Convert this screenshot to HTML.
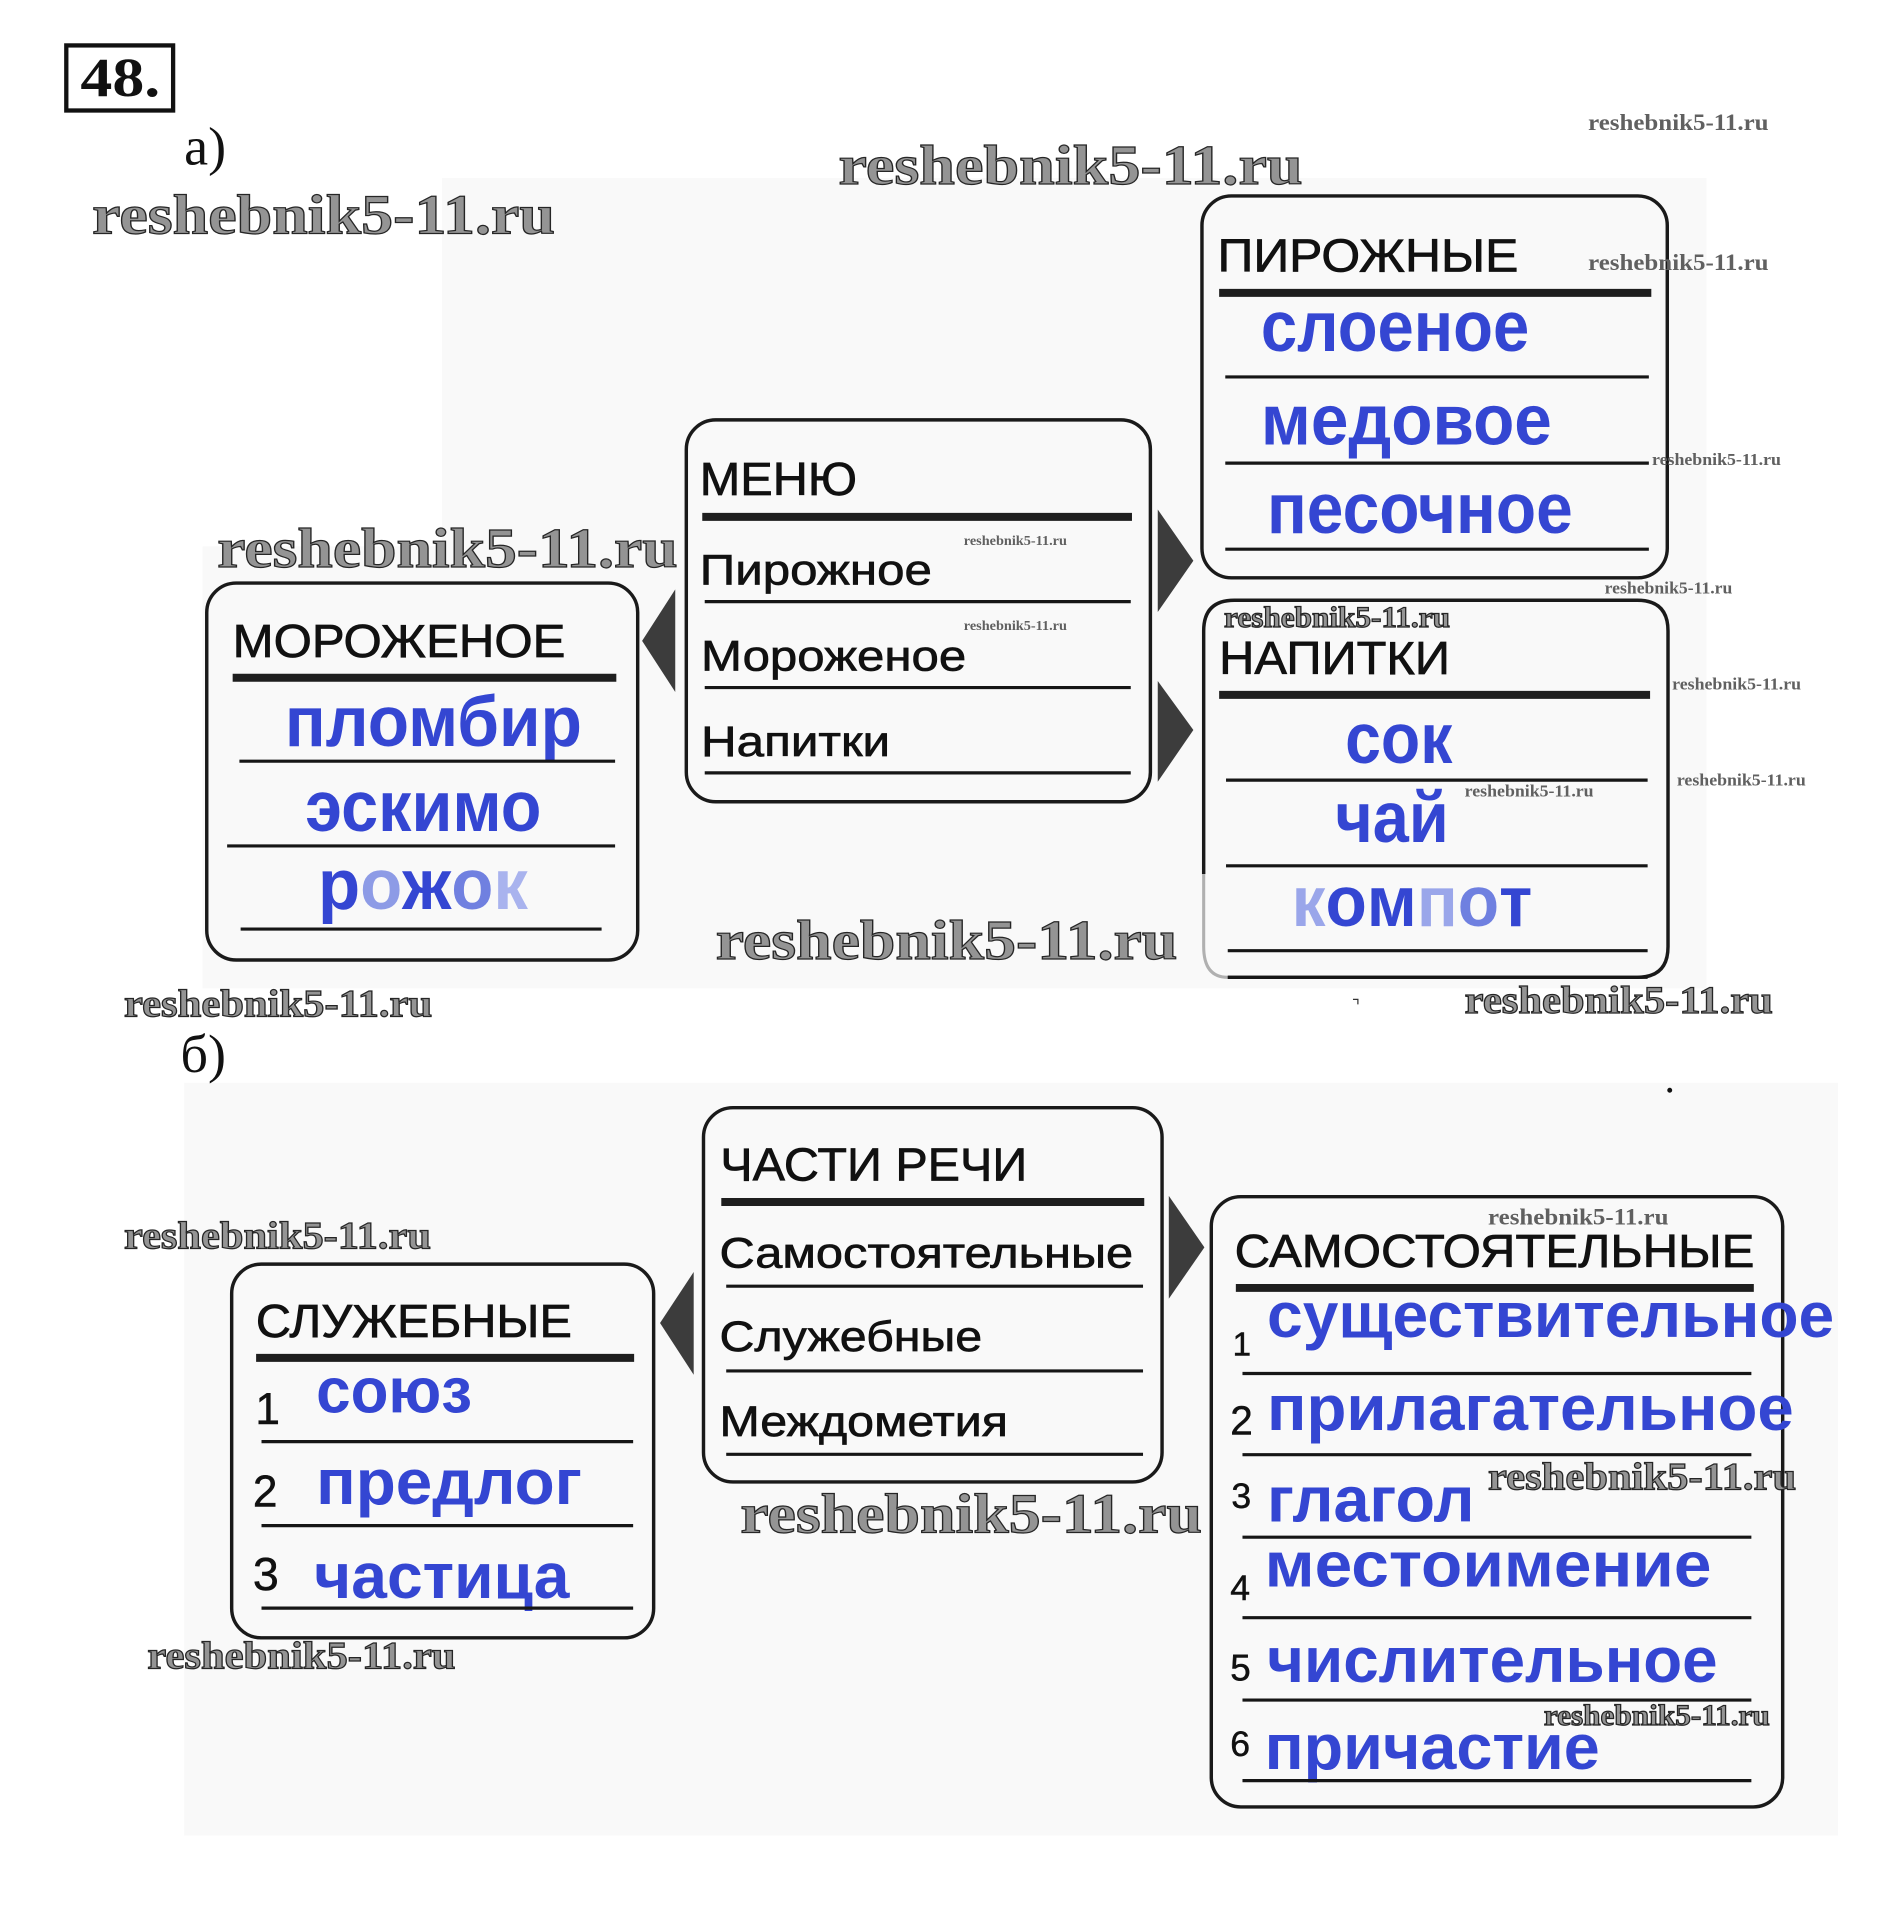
<!DOCTYPE html>
<html>
<head>
<meta charset="utf-8">
<style>
html,body{margin:0;padding:0;background:#fff;}
svg{display:block;}
.wm{font-family:"Liberation Serif",serif;font-weight:bold;fill:#949494;stroke:#262626;stroke-width:1;}
.ws{font-family:"Liberation Serif",serif;font-weight:bold;fill:#606060;}
.h{font-family:"Liberation Sans","DejaVu Sans",sans-serif;fill:#111;stroke:#111;stroke-width:0.6;font-size:38px;}
.t{font-family:"Liberation Sans","DejaVu Sans",sans-serif;fill:#111;stroke:#111;stroke-width:0.55;font-size:35px;}
.n{font-family:"Liberation Sans","DejaVu Sans",sans-serif;fill:#111;stroke:#111;stroke-width:0.4;}
.b{font-family:"Liberation Sans","DejaVu Sans",sans-serif;font-weight:bold;fill:#3446d2;font-size:58px;}
.b2{font-family:"Liberation Sans","DejaVu Sans",sans-serif;font-weight:bold;fill:#3446d2;font-size:52px;}
.box{fill:none;stroke:#1a1a1a;stroke-width:2.8;}
.ln{stroke:#161616;stroke-width:2.6;}
.th{stroke:#1e1e1e;stroke-width:6.5;}
.ar{fill:#3c3c3c;}
</style>
</head>
<body>
<svg width="1903" height="1926" viewBox="0 0 1550 1568.7" preserveAspectRatio="none" xmlns="http://www.w3.org/2000/svg">
<rect x="0" y="0" width="1550" height="1568.7" fill="#ffffff"/>
<!-- faint backgrounds -->
<rect x="360" y="145" width="1030" height="660" fill="#f9f9f9"/>
<rect x="165" y="445" width="195" height="360" fill="#f9f9f9"/>
<rect x="150" y="882" width="1347" height="613" fill="#f9f9f9"/>

<!-- 48. -->
<rect x="54" y="37" width="87" height="53" fill="none" stroke="#111" stroke-width="3.5"/>
<text x="65.5" y="78" font-family="Liberation Serif,serif" font-weight="bold" font-size="45" textLength="65" lengthAdjust="spacingAndGlyphs" fill="#111">48.</text>
<text x="150" y="134" font-family="Liberation Serif,serif" font-size="44" fill="#111">а)</text>
<text x="147" y="873" font-family="Liberation Serif,serif" font-size="44" fill="#111">б)</text>

<!-- ===== Part a ===== -->
<rect class="box" x="559" y="342" width="378" height="311" rx="24"/>
<text class="h" x="570" y="403" textLength="128" lengthAdjust="spacingAndGlyphs">МЕНЮ</text>
<line class="th" x1="572" y1="421" x2="922" y2="421"/>
<text class="t" x="570" y="476" textLength="189" lengthAdjust="spacingAndGlyphs">Пирожное</text>
<line class="ln" x1="574" y1="490" x2="921" y2="490"/>
<text class="t" x="571" y="546" textLength="216" lengthAdjust="spacingAndGlyphs">Мороженое</text>
<line class="ln" x1="574" y1="560" x2="921" y2="560"/>
<text class="t" x="571" y="615.6" textLength="154" lengthAdjust="spacingAndGlyphs">Напитки</text>
<line class="ln" x1="574" y1="629.5" x2="921" y2="629.5"/>

<polygon class="ar" points="550,480 523,522 550,563.6"/>
<polygon class="ar" points="943,415 972,456.7 943,498.5"/>
<polygon class="ar" points="943,554.7 972,594.6 943,636.7"/>

<rect class="box" x="168.4" y="474.9" width="351" height="307" rx="24"/>
<text class="h" x="189.5" y="535" textLength="271" lengthAdjust="spacingAndGlyphs">МОРОЖЕНОЕ</text>
<line class="th" x1="189.5" y1="552" x2="502" y2="552"/>
<text class="b" x="232" y="607.7" textLength="242" lengthAdjust="spacingAndGlyphs">пломбир</text>
<line class="ln" x1="195" y1="620" x2="501" y2="620"/>
<text class="b" x="248.6" y="676.7" textLength="192.4" lengthAdjust="spacingAndGlyphs">эскимо</text>
<line class="ln" x1="185" y1="689" x2="501" y2="689" stroke-width="3.5"/>
<text class="b" x="259" y="740.5" textLength="171" lengthAdjust="spacingAndGlyphs"><tspan>р</tspan><tspan fill="#8d9be6">о</tspan><tspan>ж</tspan><tspan fill="#7080e0">о</tspan><tspan fill="#a9b3ee">к</tspan></text>
<line class="ln" x1="196" y1="756.7" x2="490" y2="756.7" stroke-width="3.5"/>

<rect class="box" x="979" y="159.6" width="379" height="311" rx="24"/>
<text class="h" x="991.7" y="221.3" textLength="245" lengthAdjust="spacingAndGlyphs">ПИРОЖНЫЕ</text>
<line class="th" x1="993" y1="238.5" x2="1345" y2="238.5" stroke-width="7"/>
<text class="b" x="1027" y="286" textLength="218.6" lengthAdjust="spacingAndGlyphs">слоеное</text>
<line class="ln" x1="998" y1="307" x2="1343" y2="307"/>
<text class="b" x="1027" y="362" textLength="237" lengthAdjust="spacingAndGlyphs">медовое</text>
<line class="ln" x1="998" y1="377.2" x2="1343" y2="377.2"/>
<text class="b" x="1032" y="434" textLength="249" lengthAdjust="spacingAndGlyphs">песочное</text>
<line class="ln" x1="998" y1="447.3" x2="1343" y2="447.3"/>

<path class="box" d="M980.4 712 L980.4 513.9 Q980.4 488.9 1005.4 488.9 L1333.6 488.9 Q1358.6 488.9 1358.6 513.9 L1358.6 771 Q1358.6 796 1333.6 796 L1000 796"/>
<path d="M980.4 712 L980.4 771 Q980.4 796 1000 796" fill="none" stroke="#b0b0b0" stroke-width="2.5"/>
<text class="h" x="993" y="548.8" textLength="188" lengthAdjust="spacingAndGlyphs">НАПИТКИ</text>
<line class="th" x1="993" y1="566" x2="1344" y2="566"/>
<text class="b" x="1095.6" y="621.6" textLength="87.4" lengthAdjust="spacingAndGlyphs">сок</text>
<line class="ln" x1="998.6" y1="635.4" x2="1342" y2="635.4"/>
<text class="b" x="1087.5" y="686" textLength="92.5" lengthAdjust="spacingAndGlyphs">чай</text>
<line class="ln" x1="998.6" y1="705.2" x2="1342" y2="705.2"/>
<text class="b" x="1052" y="754.4" textLength="196" lengthAdjust="spacingAndGlyphs"><tspan fill="#9aa6ea">к</tspan><tspan>о</tspan><tspan>м</tspan><tspan fill="#9aa6ea">п</tspan><tspan fill="#6f80e0">о</tspan><tspan>т</tspan></text>
<line class="ln" x1="1000" y1="774.3" x2="1342" y2="774.3" stroke-width="4"/>
<line class="ln" x1="1000" y1="796" x2="1342" y2="796" stroke-width="5"/>

<!-- ===== Part b ===== -->
<rect class="box" x="573" y="902.2" width="373.5" height="304.8" rx="24"/>
<text class="h" x="586.7" y="961.5" textLength="250" lengthAdjust="spacingAndGlyphs">ЧАСТИ РЕЧИ</text>
<line class="th" x1="587.5" y1="979" x2="932" y2="979"/>
<text class="t" x="586" y="1032.5" textLength="337" lengthAdjust="spacingAndGlyphs">Самостоятельные</text>
<line class="ln" x1="591.5" y1="1047.6" x2="931" y2="1047.6"/>
<text class="t" x="586" y="1100.5" textLength="214" lengthAdjust="spacingAndGlyphs">Служебные</text>
<line class="ln" x1="591.5" y1="1116.6" x2="931" y2="1116.6"/>
<text class="t" x="586" y="1169.5" textLength="235" lengthAdjust="spacingAndGlyphs">Междометия</text>
<line class="ln" x1="591.5" y1="1184.5" x2="931" y2="1184.5"/>

<polygon class="ar" points="565,1036 537.6,1077.6 565,1119.7"/>
<polygon class="ar" points="952,974 981,1016 952,1057.8"/>

<rect class="box" x="188.7" y="1029.6" width="343.7" height="304.4" rx="24"/>
<text class="h" x="208.4" y="1088.8" textLength="257.4" lengthAdjust="spacingAndGlyphs">СЛУЖЕБНЫЕ</text>
<line class="th" x1="208.6" y1="1106" x2="516.5" y2="1106"/>
<text class="n" x="208" y="1159.7" font-size="36">1</text>
<text class="b2" x="257.5" y="1150.6" textLength="127" lengthAdjust="spacingAndGlyphs">союз</text>
<line class="ln" x1="213" y1="1174.2" x2="515.7" y2="1174.2"/>
<text class="n" x="206" y="1227" font-size="36">2</text>
<text class="b2" x="257.5" y="1225" textLength="216.5" lengthAdjust="spacingAndGlyphs">предлог</text>
<line class="ln" x1="213" y1="1242.6" x2="515.7" y2="1242.6"/>
<text class="n" x="206" y="1295" font-size="38">3</text>
<text class="b2" x="255.8" y="1301.6" textLength="208" lengthAdjust="spacingAndGlyphs">частица</text>
<line class="ln" x1="213" y1="1309.8" x2="515.7" y2="1309.8"/>

<rect class="box" x="986.6" y="974.7" width="465.4" height="497" rx="24"/>
<text class="h" x="1005.6" y="1032" textLength="423.4" lengthAdjust="spacingAndGlyphs">САМОСТОЯТЕЛЬНЫЕ</text>
<line class="th" x1="1006.6" y1="1049" x2="1428.5" y2="1049"/>
<text class="n" x="1004" y="1104" font-size="27">1</text>
<text class="b2" x="1032" y="1089" textLength="462" lengthAdjust="spacingAndGlyphs">существительное</text>
<line class="ln" x1="1012" y1="1118.7" x2="1426.5" y2="1118.7"/>
<text class="n" x="1002" y="1168.5" font-size="33">2</text>
<text class="b2" x="1032" y="1164.8" textLength="429" lengthAdjust="spacingAndGlyphs">прилагательное</text>
<line class="ln" x1="1012" y1="1184.8" x2="1426.5" y2="1184.8"/>
<text class="n" x="1003" y="1228.4" font-size="29">3</text>
<text class="b2" x="1032" y="1239.4" textLength="169" lengthAdjust="spacingAndGlyphs">глагол</text>
<line class="ln" x1="1012" y1="1252" x2="1426.5" y2="1252"/>
<text class="n" x="1002" y="1303" font-size="29">4</text>
<text class="b2" x="1030" y="1292" textLength="364" lengthAdjust="spacingAndGlyphs">местоимение</text>
<line class="ln" x1="1012" y1="1317.6" x2="1426.5" y2="1317.6"/>
<text class="n" x="1002" y="1368.6" font-size="30">5</text>
<text class="b2" x="1032" y="1370" textLength="367" lengthAdjust="spacingAndGlyphs">числительное</text>
<line class="ln" x1="1012" y1="1384.7" x2="1426.5" y2="1384.7"/>
<text class="n" x="1002" y="1430.4" font-size="29">6</text>
<text class="b2" x="1030" y="1441" textLength="273" lengthAdjust="spacingAndGlyphs">причастие</text>
<line class="ln" x1="1012" y1="1450.3" x2="1426.5" y2="1450.3"/>

<circle cx="1360" cy="888" r="2" fill="#111"/>
<path d="M1102 814 L1106 814 L1106 818" fill="none" stroke="#333" stroke-width="1"/>

<!-- ===== Watermarks ===== -->
<text class="wm" x="75" y="190" font-size="46" textLength="377" lengthAdjust="spacingAndGlyphs">reshebnik5-11.ru</text>
<text class="wm" x="683" y="150" font-size="46" textLength="378" lengthAdjust="spacingAndGlyphs">reshebnik5-11.ru</text>
<text class="wm" x="177" y="462" font-size="46" textLength="375" lengthAdjust="spacingAndGlyphs">reshebnik5-11.ru</text>
<text class="wm" x="583" y="781" font-size="46" textLength="376" lengthAdjust="spacingAndGlyphs">reshebnik5-11.ru</text>
<text class="wm" x="603" y="1248" font-size="46" textLength="376" lengthAdjust="spacingAndGlyphs">reshebnik5-11.ru</text>
<text class="wm" x="1193" y="825" font-size="32" textLength="251" lengthAdjust="spacingAndGlyphs">reshebnik5-11.ru</text>
<text class="wm" x="101" y="828" font-size="32" textLength="251" lengthAdjust="spacingAndGlyphs">reshebnik5-11.ru</text>
<text class="wm" x="101" y="1017" font-size="32" textLength="250" lengthAdjust="spacingAndGlyphs">reshebnik5-11.ru</text>
<text class="wm" x="120" y="1359" font-size="32" textLength="251" lengthAdjust="spacingAndGlyphs">reshebnik5-11.ru</text>
<text class="wm" x="1212" y="1213" font-size="32" textLength="251" lengthAdjust="spacingAndGlyphs">reshebnik5-11.ru</text>
<text class="ws" x="1293.5" y="106" font-size="19" textLength="147" lengthAdjust="spacingAndGlyphs">reshebnik5-11.ru</text>
<text class="ws" x="1293.5" y="220" font-size="19" textLength="147" lengthAdjust="spacingAndGlyphs">reshebnik5-11.ru</text>
<text class="ws" x="1345.6" y="378.7" font-size="14" textLength="105" lengthAdjust="spacingAndGlyphs">reshebnik5-11.ru</text>
<text class="ws" x="1307" y="483.4" font-size="14" textLength="104" lengthAdjust="spacingAndGlyphs">reshebnik5-11.ru</text>
<text class="wm" x="997" y="510.7" font-size="24" textLength="184" lengthAdjust="spacingAndGlyphs" stroke-width="0.6">reshebnik5-11.ru</text>
<text class="ws" x="1362" y="561.6" font-size="14" textLength="105" lengthAdjust="spacingAndGlyphs">reshebnik5-11.ru</text>
<text class="ws" x="1365.8" y="639.7" font-size="14" textLength="105" lengthAdjust="spacingAndGlyphs">reshebnik5-11.ru</text>
<text class="ws" x="1193" y="648.8" font-size="14" textLength="105" lengthAdjust="spacingAndGlyphs">reshebnik5-11.ru</text>
<text class="ws" x="785" y="444" font-size="11" textLength="84" lengthAdjust="spacingAndGlyphs">reshebnik5-11.ru</text>
<text class="ws" x="785" y="513" font-size="11" textLength="84" lengthAdjust="spacingAndGlyphs">reshebnik5-11.ru</text>
<text class="ws" x="1212" y="997.5" font-size="19" textLength="147" lengthAdjust="spacingAndGlyphs">reshebnik5-11.ru</text>
<text class="wm" x="1257.5" y="1404.8" font-size="24" textLength="184" lengthAdjust="spacingAndGlyphs" stroke-width="0.6">reshebnik5-11.ru</text>
</svg>
</body>
</html>
